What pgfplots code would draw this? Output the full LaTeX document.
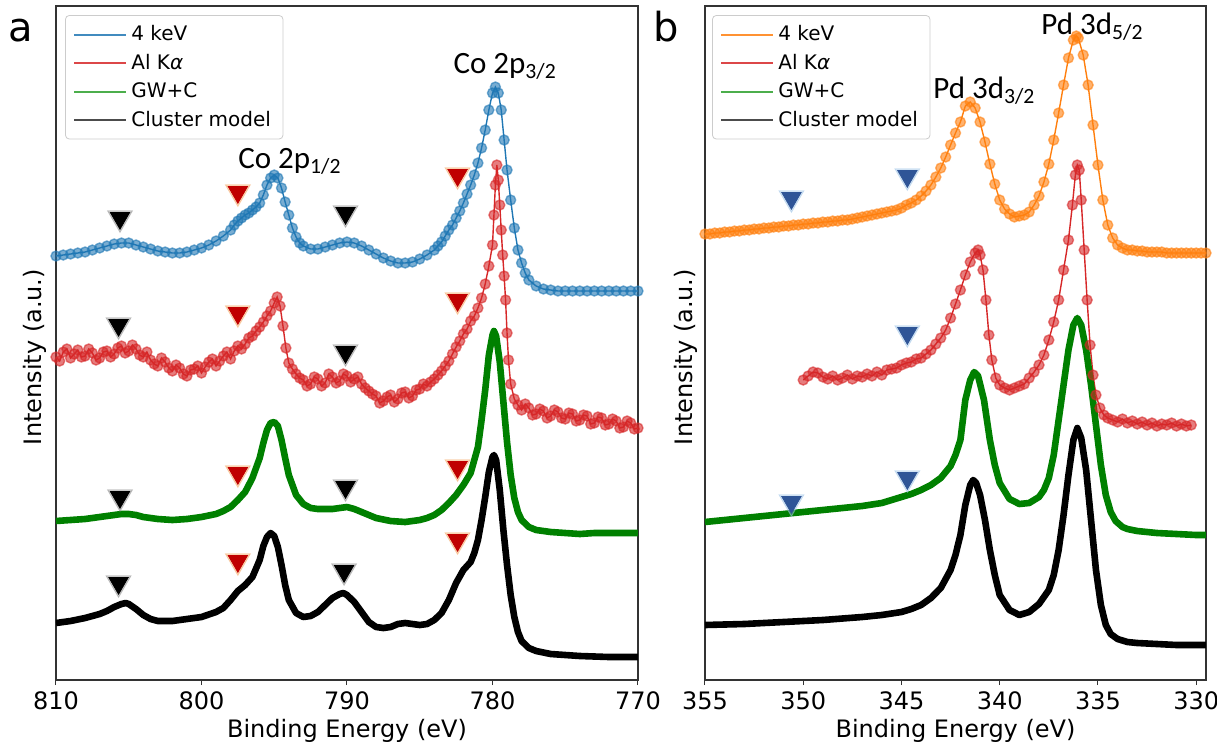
\documentclass[border=0pt]{standalone}
\usepackage{fontspec}
\setmainfont{DejaVu Sans}
\newfontfamily\carlito{Carlito}
\usepackage{pgfplots}
\pgfplotsset{compat=1.18}

\definecolor{mblue}{HTML}{1F77B4}
\definecolor{morange}{HTML}{FF7F0E}
\definecolor{mred}{HTML}{D62728}
\definecolor{mgreen}{HTML}{2CA02C}
\definecolor{dgreen}{HTML}{008000}
\definecolor{trired}{HTML}{C00000}
\definecolor{triredglow}{HTML}{F4A460}
\definecolor{triblue}{HTML}{2F5597}
\definecolor{triblueglow}{HTML}{9DC3E6}
\definecolor{frame}{HTML}{333333}

\pgfplotsset{
  xps/.style={
    scale only axis, height=337pt,
    y dir=reverse, ymin=6, ymax=680, ytick=\empty, x dir=reverse,
    axis line style={frame, line width=0.6pt},
    xtick pos=bottom, tick align=outside, major tick length=2.5pt,
    tick style={frame, line width=0.5pt},
    /pgf/number format/assume math mode=true,
    ticklabel style={font=\fontsize{12}{14}\selectfont},
    label style={font=\fontsize{12}{14}\selectfont},
    xlabel={Binding Energy (eV)},
    ylabel={Intensity (a.u.)},
    xlabel style={at={(axis description cs:0.5,0)}, anchor=center, yshift=-25.5pt},
    legend style={anchor=north west, draw=black!20, rounded corners=2pt, fill=white,
      font=\fontsize{10}{12}\selectfont, row sep=1.2pt, inner xsep=4pt, inner ysep=3pt},
    legend cell align=left,
    legend image code/.code={\draw[#1] (0pt,0pt) -- (21pt,0pt); \path (0pt,0pt) -- (26pt,0pt);},
  },
  dots/.style={#1, line width=0.7pt, mark=*, mark size=2.5pt,
    mark options={fill=#1, draw=#1, fill opacity=0.6, draw opacity=0.6}},
  thick curve/.style={#1, line width=3.3pt, line join=round},
  tri/.style={only marks, mark=triangle*, mark size=5.6pt, mark options={rotate=180, fill=#1, draw=#1}},
  triglow/.style={only marks, mark=triangle*, mark size=7.2pt, mark options={rotate=180, fill=#1, draw=#1, opacity=0.45}},
}

\begin{document}
\begin{tikzpicture}
\useasboundingbox (0,0) rectangle (608.5pt,372.5pt);

%% ================= Panel a =================
\begin{axis}[xps, at={(28pt,32.5pt)}, anchor=south west, width=291pt,
  xmin=770, xmax=810, xtick={770,780,790,800,810},
  ylabel style={at={(axis description cs:0,0.5)}, anchor=center, yshift=10.5pt, xshift=-7pt},
  legend style={at={(axis description cs:0.0155,0.9866)}}]
\addlegendimage{mblue!85, line width=1pt}\addlegendentry{4 keV}
\addlegendimage{mred!85, line width=1pt}\addlegendentry{Al K{\itshape α}}
\addlegendimage{mgreen!85, line width=1pt}\addlegendentry{GW+C}
\addlegendimage{black!70, line width=1pt}\addlegendentry{Cluster model}

% 4 keV
\addplot[dots=mblue, forget plot] table {
E y
810 256
809.5 255
809 254
808.5 253
808 252
807.5 250
807 248
806.5 246
806 244
805.5 243
805 243
804.5 245
804 247
803.5 249
803 251
802.5 252
802 253
801.5 253
801 252
800.5 250
800 248
799.5 245
799 241
798.5 236
798 230
797.75 225
797.5 221
797.25 218
797 215
796.75 213
796.5 210
796.25 207
796 203
795.75 195
795.5 185
795.25 178
795 175
794.75 178
794.5 188
794.25 202
794 215
793.75 228
793.5 237
793.25 243
793 246
792.5 249
792 249
791.5 247
791 245
790.5 243
790 242
789.5 243
789 246
788.5 250
788 254
787.5 258
787 261
786.5 263
786 263
785.5 262
785 259
784.5 255
784 250
783.75 246
783.5 242
783.25 236
783 230
782.75 225
782.5 218
782.25 211
782 203
781.75 194
781.5 185
781.25 175
781 163
780.75 148
780.5 130
780.25 110
780 93
779.8 87
779.6 93
779.4 110
779.2 140
779 170
778.75 200
778.5 228
778.25 250
778 263
777.75 273
777.5 280
777 286
776.5 289
776 290
775.5 291
775 291
774.5 291
774 291
773.5 291
773 291
772.5 291
772 291
771.5 291
771 291
770.5 291
770 291
};

% Al Ka
\addplot[dots=mred, forget plot] table {
E y
810 357
809.75 361
809.5 352
809.25 349
809 358
808.75 354
808.5 350
808.25 357
808 356
807.75 349
807.5 353
807.25 360
807 358
806.75 352
806.5 351
806.25 357
806 354
805.75 348
805.5 346
805.25 353
805 351
804.75 345
804.5 349
804.25 355
804 357
803.75 352
803.5 360
803.25 364
803 366
802.75 358
802.5 362
802.25 368
802 371
801.75 365
801.5 368
801.25 374
801 376
800.75 370
800.5 369
800.25 366
800 373
799.75 367
799.5 362
799.25 359
799 366
798.75 361
798.5 356
798.25 352
798 359
797.75 351
797.5 346
797.25 349
797 344
796.75 338
796.5 336
796.25 331
796 327
795.75 322
795.5 316
795.25 311
795 303
794.8 297
794.6 306
794.4 326
794.2 348
794 363
793.75 369
793.5 374
793.25 378
793 380
792.75 386
792.5 384
792.25 377
792 379
791.75 386
791.5 383
791.25 374
791 377
790.75 383
790.5 381
790.25 374
790 376
789.75 382
789.5 379
789.25 377
789 384
788.75 388
788.5 391
788.25 394
788 396
787.75 403
787.5 401
787.25 397
787 395
786.75 402
786.5 399
786.25 393
786 392
785.75 398
785.5 396
785.25 390
785 389
784.75 384
784.5 386
784.25 382
784 379
783.75 375
783.5 371
783.25 366
783 361
782.75 354
782.5 347
782.25 341
782 334
781.75 329
781.5 321
781.25 316
781 308
780.75 298
780.5 284
780.25 266
780 245
779.9 215
779.8 185
779.7 165
779.6 180
779.5 205
779.4 230
779.3 255
779.2 276
779.1 300
779 333
778.9 360
778.75 384
778.5 399
778.25 405
778 410
777.75 404
777.5 408
777.25 415
777 414
776.75 409
776.5 411
776.25 418
776 416
775.75 410
775.5 412
775.25 418
775 419
774.75 413
774.5 414
774.25 421
774 420
773.75 415
773.5 416
773.25 424
773 423
772.75 417
772.5 418
772.25 425
772 424
771.75 419
771.5 421
771.25 428
771 427
770.75 421
770.5 423
770.25 429
770 428
};

% GW+C
\addplot[thick curve=dgreen, forget plot] table {
E y
810 521
809 520
808 519
807 517
806 515
805.5 514
805 514
804.5 515
804 517
803 519
802 520
801 519
800 517
799 514
798.5 511
798 507
797.5 500
797 492
796.5 478
796 458
795.75 443
795.5 430
795.25 423
795 422
794.75 426
794.5 440
794.25 458
794 475
793.5 495
793 504
792.5 508
792 509
791 509
790.5 508
790 507
789.5 509
789 512
788 518
787 521
786 522
785 520
784.5 518
784 515
783.5 510
783 503
782.5 495
782 485
781.5 473
781 447
780.75 420
780.5 390
780.25 355
780 335
779.9 331
779.75 336
779.5 362
779.25 402
779 442
778.75 475
778.5 498
778.25 512
778 520
777.5 527
777 530
776 532
775 533
774 534
773 533
772 533
771 533
770 533
};

% Cluster model
\addplot[thick curve=black, forget plot] table {
E y
810 623
809 621
808 618
807 614
806.5 611
806 607
805.5 604
805.2 603
805 604
804.5 609
804 615
803.5 619
803 621
802 621
801 619
800 617
799 612
798.5 608
798 600
797.5 591
797 585
796.5 577
796 560
795.75 546
795.5 537
795.25 533
795 536
794.75 547
794.5 565
794.25 585
794 600
793.5 613
793 617
792.5 616
792 612
791.5 605
791 598
790.5 594
790.25 593
790 595
789.5 602
789 612
788.5 622
788 627
787.5 628
787 627
786.5 624
786 623
785.5 624
785 625
784.5 624
784 620
783.5 613
783 600
782.5 583
782 570
781.75 566
781.5 562
781.25 553
781 540
780.75 520
780.5 497
780.25 472
780 457
779.9 455
779.75 460
779.5 490
779.25 530
779 565
778.75 595
778.5 617
778.25 632
778 641
777.5 648
777 651
776 654
775 655
774 656
772 657
770 657
};

% triangles
\addplot[triglow=black!45, forget plot] coordinates {(805.6,218) (790.1,213) (805.7,325) (790.1,352) (805.6,497) (790.1,487) (805.7,583) (790.2,571)};
\addplot[tri=black, forget plot] coordinates {(805.6,218) (790.1,213) (805.7,325) (790.1,352) (805.6,497) (790.1,487) (805.7,583) (790.2,571)};
\addplot[triglow=triredglow, forget plot] coordinates {(797.5,192) (782.4,175) (797.5,313) (782.4,300) (797.5,473) (782.4,467) (797.5,561) (782.4,540)};
\addplot[tri=trired, forget plot] coordinates {(797.5,192) (782.4,175) (797.5,313) (782.4,300) (797.5,473) (782.4,467) (797.5,561) (782.4,540)};

\node[font=\carlito\fontsize{15.5}{18}\selectfont, anchor=base west, inner sep=0pt] at (axis cs:782.7,73) {Co 2p\textsubscript{3/2}};
\node[font=\carlito\fontsize{15.5}{18}\selectfont, anchor=base west, inner sep=0pt] at (axis cs:797.5,168) {Co 2p\textsubscript{1/2}};
\end{axis}

%% ================= Panel b =================
\begin{axis}[xps, at={(352.5pt,32.5pt)}, anchor=south west, width=250.5pt,
  xmin=329.5, xmax=355, xtick={330,335,340,345,350,355},
  ylabel style={at={(axis description cs:0,0.5)}, anchor=center, yshift=9.5pt, xshift=-7pt},
  legend style={at={(axis description cs:0.014,0.9866)}}]
\addlegendimage{morange!85, line width=1pt}\addlegendentry{4 keV}
\addlegendimage{mred!85, line width=1pt}\addlegendentry{Al K{\itshape α}}
\addlegendimage{mgreen!85, line width=1pt}\addlegendentry{GW+C}
\addlegendimage{black!70, line width=1pt}\addlegendentry{Cluster model}

\addplot[dots=morange, forget plot] table {
E y
355 234
354.75 234
354.5 233
354.25 233
354 232
353.75 232
353.5 231
353.25 231
353 230
352.75 230
352.5 229
352.25 229
352 228
351.75 228
351.5 227
351.25 227
351 226
350.75 226
350.5 225
350.25 225
350 224
349.75 224
349.5 223
349.25 223
349 222
348.75 222
348.5 221
348.25 221
348 220
347.75 220
347.5 219
347.25 218
347 217
346.75 216
346.5 215
346.25 214
346 213
345.75 212
345.5 211
345.25 210
345 208
344.75 205
344.5 203
344.25 200
344 196
343.75 191
343.5 185
343.25 177
343 168
342.75 157
342.5 145
342.25 133
342 122
341.75 106
341.5 102
341.25 108
341 122
340.75 142
340.5 164
340.25 184
340 200
339.75 209
339.5 214
339.25 217
339 216
338.75 215
338.5 212
338.25 205
338 196
337.75 182
337.5 164
337.25 140
337 113
336.75 85
336.5 58
336.25 40
336.1 36
336 38
335.75 55
335.5 85
335.25 125
335 165
334.75 200
334.5 225
334.25 238
334 245
333.75 248
333.5 250
333.25 250
333 251
332.75 251
332.5 252
332.25 252
332 252
331.75 252
331.5 253
331.25 253
331 253
330.75 253
330.5 253
330.25 253
330 253
329.75 253
329.5 253
};

\addplot[dots=mred, forget plot] table {
E y
350 380
349.75 376
349.5 372
349.25 373
349 377
348.75 379
348.5 376
348.25 380
348 378
347.75 375
347.5 379
347.25 376
347 377
346.75 374
346.5 376
346.25 372
346 375
345.75 370
345.5 369
345.25 368
345 365
344.75 363
344.5 362
344.25 359
344 358
343.75 354
343.5 350
343.25 344
343 338
342.75 330
342.5 318
342.25 304
342 290
341.75 275
341.5 262
341.25 253
341.1 250
341 255
340.85 270
340.7 300
340.55 335
340.4 360
340.2 378
340 385
339.75 388
339.5 390
339.25 388
339 386
338.75 384
338.5 378
338.25 372
338 365
337.75 355
337.5 340
337.25 322
337 300
336.75 270
336.5 240
336.3 205
336.15 175
336.05 165
335.95 170
335.85 200
335.7 250
335.55 300
335.4 345
335.25 375
335.1 395
334.9 408
334.7 415
334.5 418
334.25 420
334 422
333.75 419
333.5 423
333.25 421
333 424
332.75 422
332.5 425
332.25 423
332 426
331.75 424
331.5 425
331.25 423
331 426
330.75 424
330.5 426
330.25 425
};

\addplot[thick curve=dgreen, forget plot] table {
E y
355 522
354 520
353 518
352 516
351 514
350 512
349 510
348 508
347 506
346 503
345.5 500
345 497
344.5 494
344 490
343.5 485
343 478
342.5 466
342.25 455
342 440
341.75 400
341.5 380
341.3 372
341.1 376
340.8 400
340.5 440
340.25 465
340 483
339.5 499
339 504
338.5 503
338 497
337.75 490
337.5 478
337.25 455
337 420
336.75 385
336.5 350
336.25 325
336.05 318
335.85 325
335.6 350
335.35 385
335.1 425
334.85 465
334.6 495
334.35 512
334.1 521
333.75 527
333.5 529
333 531
332 533
331 534
330 535
329.5 535
};

\addplot[thick curve=black, forget plot] table {
E y
355 625
353 624
351 622
349 620
347 617
346 615
345 612
344.5 609
344 605
343.5 598
343 588
342.5 570
342.25 555
342 535
341.75 505
341.5 485
341.35 480
341.2 483
341 495
340.75 520
340.5 550
340.25 575
340 595
339.5 610
339 615
338.5 612
338 604
337.5 590
337.25 575
337 550
336.75 515
336.5 475
336.25 440
336.05 428
335.85 438
335.6 470
335.35 520
335.1 570
334.85 605
334.6 625
334.35 634
334 639
333.5 642
333 643
332 644
331 645
330 645
329.5 645
};

\addplot[triglow=triblueglow, forget plot] coordinates {(350.6,198) (344.7,176) (344.7,333) (350.6,502) (344.7,478)};
\addplot[tri=triblue, forget plot] coordinates {(350.6,198) (344.7,176) (344.7,333) (350.6,502) (344.7,478)};

\node[font=\carlito\fontsize{15.5}{18}\selectfont, anchor=base west, inner sep=0pt] at (axis cs:337.9,34) {Pd 3d\textsubscript{5/2}};
\node[font=\carlito\fontsize{15.5}{18}\selectfont, anchor=base west, inner sep=0pt] at (axis cs:343.4,98) {Pd 3d\textsubscript{3/2}};
\end{axis}

\node[font=\fontsize{20}{24}\selectfont, anchor=base, inner sep=0pt] at (10.5pt,351.5pt) {a};
\node[font=\fontsize{20}{24}\selectfont, anchor=base, inner sep=0pt] at (333pt,351.5pt) {b};
\end{tikzpicture}
\end{document}
